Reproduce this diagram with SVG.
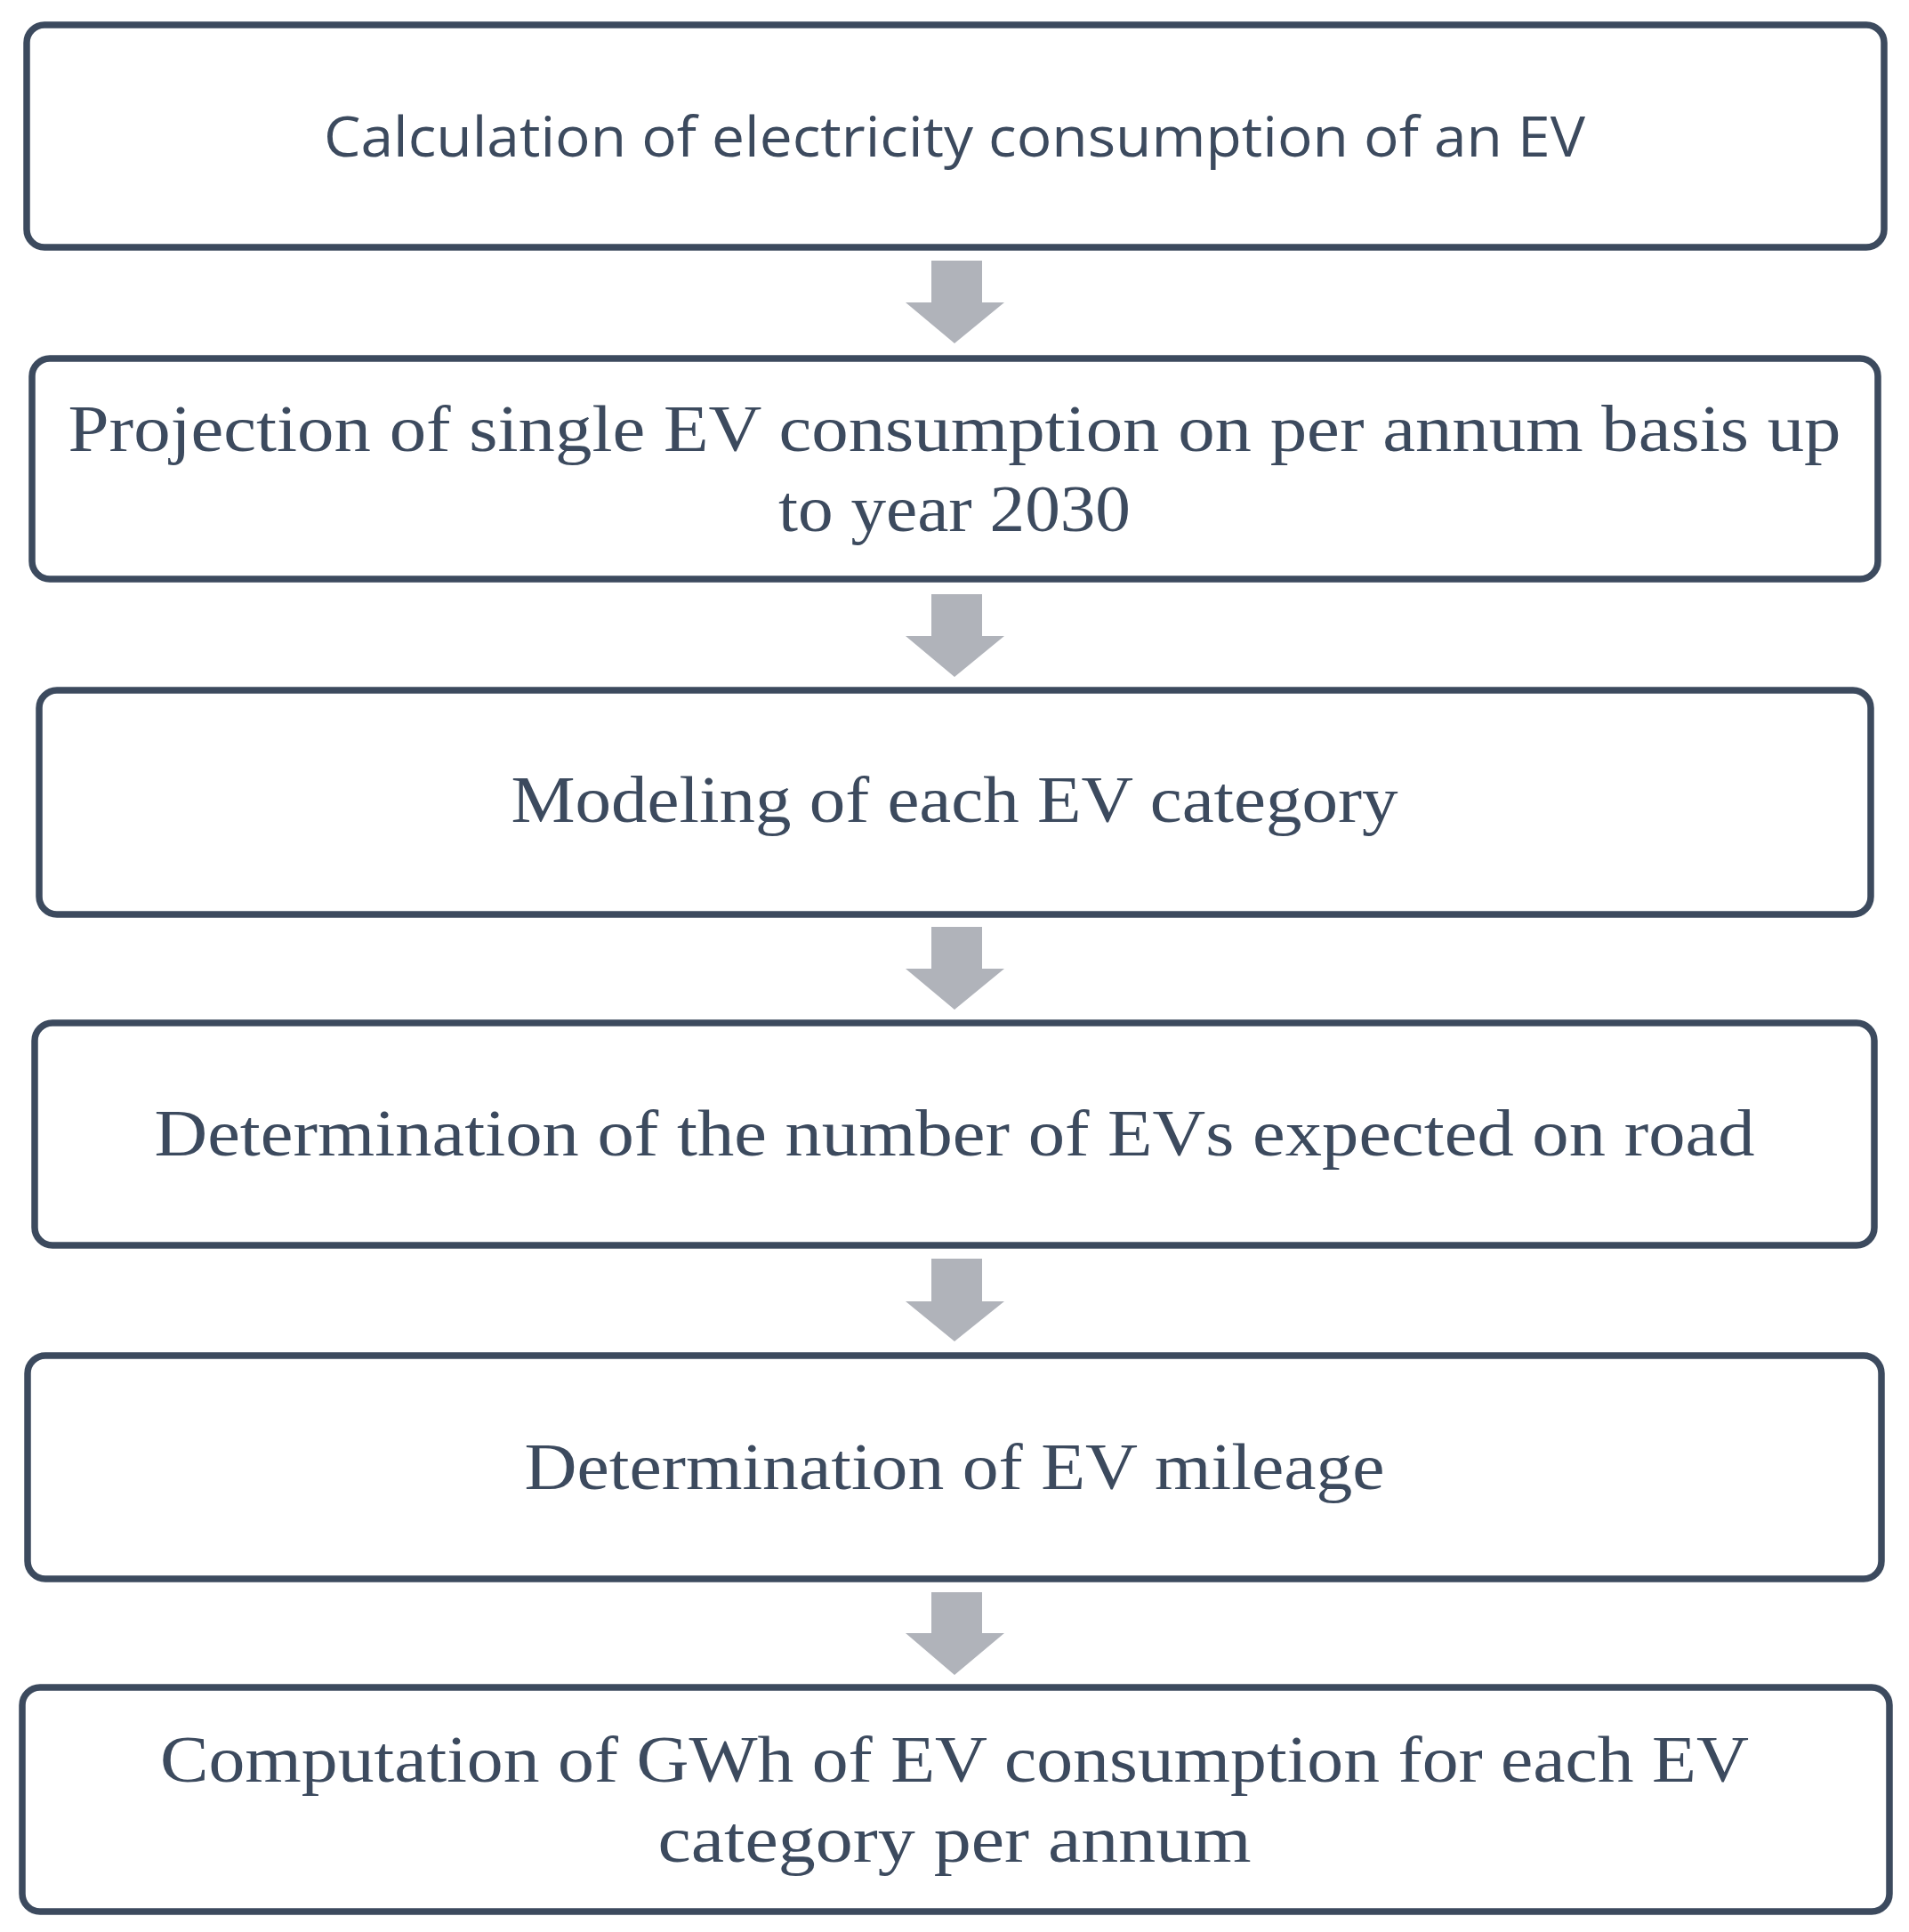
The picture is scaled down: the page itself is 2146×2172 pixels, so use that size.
<svg xmlns="http://www.w3.org/2000/svg" width="2146" height="2172" viewBox="0 0 2146 2172">
<style>
.b{fill:#fff;stroke:#3c4a5e;stroke-width:7.5}
.s{font-family:"Liberation Serif","DejaVu Serif",serif;font-size:74px;fill:#3c4a5e;text-anchor:middle}
.a{font-family:"Open Sans","Liberation Sans",sans-serif;font-size:62px;fill:#3c4a5e;text-anchor:middle}
.ar{fill:#b0b3ba}
</style>
<rect width="2146" height="2172" fill="#fff"/>
<g id="connectors">
<polygon class="ar" points="1047,293 1104,293 1104,340 1129,340 1073,386 1018,340 1047,340"/>
<polygon class="ar" points="1047,668 1104,668 1104,715 1129,715 1073,761 1018,715 1047,715"/>
<polygon class="ar" points="1047,1042 1104,1042 1104,1089 1129,1089 1073,1135 1018,1089 1047,1089"/>
<polygon class="ar" points="1047,1415 1104,1415 1104,1463 1129,1463 1073,1508 1018,1463 1047,1463"/>
<polygon class="ar" points="1047,1790 1104,1790 1104,1836 1129,1836 1073,1883 1018,1836 1047,1836"/>
</g>
<g id="n1"><rect class="b" x="30" y="28" width="2088" height="250" rx="20"/><text class="a" x="1073" y="176" textLength="1418" lengthAdjust="spacingAndGlyphs">Calculation of electricity consumption of an EV</text></g>
<g id="n2"><rect class="b" x="36" y="403" width="2075" height="248" rx="20"/><text class="s" x="1073" y="507" textLength="1993" lengthAdjust="spacingAndGlyphs">Projection of single EV consumption on per annum basis up</text><text class="s" x="1073" y="597" textLength="396" lengthAdjust="spacingAndGlyphs">to year 2030</text></g>
<g id="n3"><rect class="b" x="44" y="776" width="2059" height="252" rx="20"/><text class="s" x="1073" y="924" textLength="997" lengthAdjust="spacingAndGlyphs">Modeling of each EV category</text></g>
<g id="n4"><rect class="b" x="39" y="1150" width="2068" height="250" rx="20"/><text class="s" x="1073" y="1299" textLength="1799" lengthAdjust="spacingAndGlyphs">Determination of the number of EVs expected on road</text></g>
<g id="n5"><rect class="b" x="31" y="1524" width="2084" height="251" rx="20"/><text class="s" x="1073" y="1674" textLength="967" lengthAdjust="spacingAndGlyphs">Determination of EV mileage</text></g>
<g id="n6"><rect class="b" x="25" y="1897" width="2099" height="252" rx="20"/><text class="s" x="1073" y="2003" textLength="1786" lengthAdjust="spacingAndGlyphs">Computation of GWh of EV consumption for each EV</text><text class="s" x="1073" y="2093" textLength="667" lengthAdjust="spacingAndGlyphs">category per annum</text></g>
</svg>
